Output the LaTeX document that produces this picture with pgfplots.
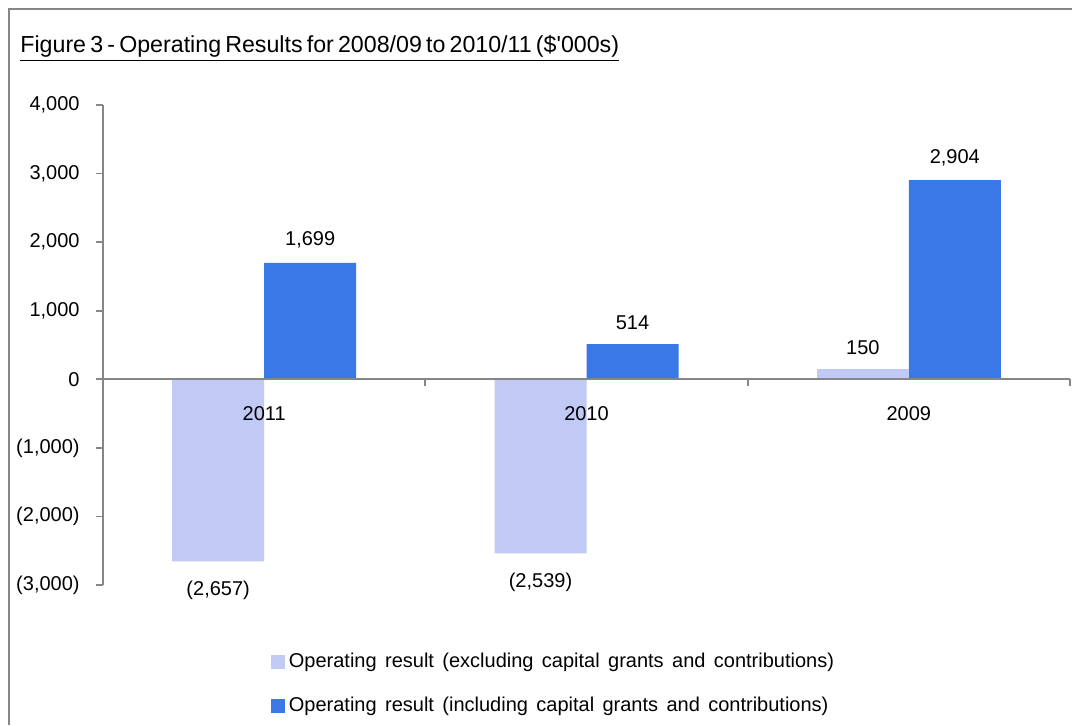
\documentclass[border=0pt]{standalone}
\usepackage{pgfplots}
\pgfplotsset{compat=1.18}
\usepackage{pgfplotstable}
\usepackage{fontspec}
\setmainfont{Liberation Sans}
\definecolor{lightbar}{HTML}{C0CAF5}
\definecolor{darkbar}{HTML}{3A78E8}
\definecolor{axgray}{HTML}{868686}
\newcommand{\widesp}{\spaceskip=0.42em\relax}
\pgfplotstableread{
x y lab
0 -2657 (2,657)
1 -2539 (2,539)
}\exclneg
\pgfplotstableread{
x y lab
2 150 150
}\exclpos
\pgfplotstableread{
x y lab
0 1699 1,699
1 514 514
2 2904 2,904
}\incl
\begin{document}
\begin{tikzpicture}
\useasboundingbox (0,0) rectangle (536pt,362.5pt);
\draw[axgray, line width=1pt] (4.5pt,0) -- (4.5pt,358pt) -- (536.5pt,358pt);
\node[anchor=base west, inner sep=0pt, font=\fontsize{11.6}{14}\selectfont] at (10pt,336pt) {\spaceskip=0.18em\relax\underline{Figure 3 - Operating Results for 2008/09 to 2010/11 (\$\textquotesingle000s)}};
\begin{axis}[
  at={(51.5pt,70pt)}, anchor=south west,
  scale only axis, width=483.5pt, height=240pt,
  ybar=0pt, bar width=46pt,
  xmin=-0.5, xmax=2.5, ymin=-3000, ymax=4000,
  axis on top,
  axis x line*=middle, axis y line*=left,
  axis line style={-, axgray, line width=0.9pt},
  xtick={0,1,2}, xticklabels={2011,2010,2009},
  x tick style={draw=none},
  xticklabel style={yshift=-6.5pt, font=\fontsize{10}{12}\selectfont},
  ytick={-3000,-2000,-1000,0,1000,2000,3000,4000},
  yticklabels={(3,000),(2,000),(1,000),0,{1,000},{2,000},{3,000},{4,000}},
  y tick style={axgray, line width=0.9pt},
  tick align=outside, major tick length=3.5pt,
  yticklabel style={inner sep=0pt, xshift=-8pt, font=\fontsize{10}{12}\selectfont},
  point meta=explicit symbolic,
  nodes near coords,
  nodes near coords style={font=\fontsize{10}{12}\selectfont, inner sep=7pt, text=black},
  legend style={at={(0.167,-0.125)}, anchor=north west, draw=none, fill=none,
    legend cell align=left, row sep=9pt, font=\fontsize{10}{12}\selectfont},
  legend image code/.code={\fill[#1] (0pt,-3.5pt) rectangle (7pt,3.5pt);},
  clip=false,
]
\addplot[fill=lightbar, draw=none, bar shift=-23pt,
  every node near coord/.append style={anchor=north, yshift=-2.5pt}] table[x=x, y=y, meta=lab] {\exclneg};
\addplot[fill=darkbar, draw=none, bar shift=23pt,
  every node near coord/.append style={anchor=south}] table[x=x, y=y, meta=lab] {\incl};
\addplot[fill=lightbar, draw=none, bar shift=-23pt, forget plot,
  every node near coord/.append style={anchor=south}] table[x=x, y=y, meta=lab] {\exclpos};
\legend{{\widesp Operating result (excluding capital grants and contributions)},{\widesp Operating result (including capital grants and contributions)}}
\draw[axgray, line width=0.9pt] (axis cs:0.5,0) -- ++(0pt,-3.5pt);
\draw[axgray, line width=0.9pt] (axis cs:1.5,0) -- ++(0pt,-3.5pt);
\draw[axgray, line width=0.9pt] (axis cs:2.5,0) -- ++(0pt,-3.5pt);
\end{axis}
\end{tikzpicture}
\end{document}
